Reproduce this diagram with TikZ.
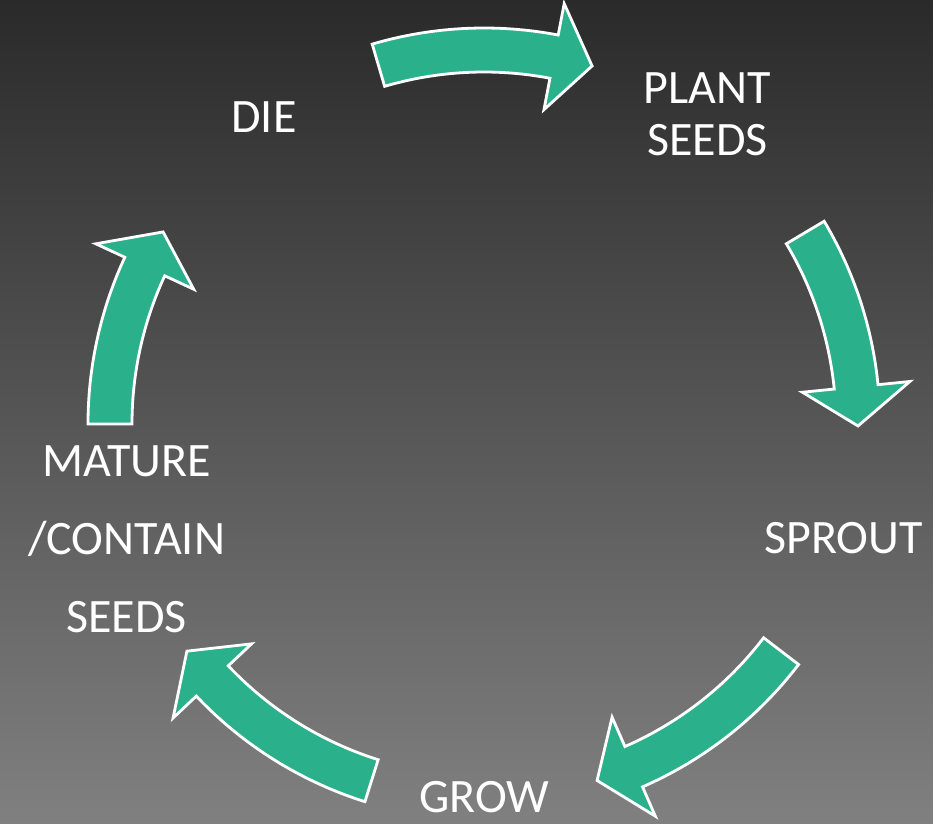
\documentclass[tikz,border=0pt]{standalone}
\usepackage{fontspec}
\setmainfont{Carlito}
\usetikzlibrary{positioning,calc}
\definecolor{BgTop}{HTML}{2A2A2A}
\definecolor{BgBottom}{HTML}{808080}
\definecolor{Leaf}{HTML}{2BB08C}
\newcommand{\cycleArrow}[2]{%
  \draw[cycleArrowStyle] (#1:396pt) arc[start angle=#1, end angle={#2+6}, radius=396pt]
    -- ({#2+6}:428pt) -- (#2:374pt) -- ({#2+6}:320pt) -- ({#2+6}:352pt)
    arc[start angle={#2+6}, end angle=#1, radius=352pt] -- cycle;}

\begin{document}
\begin{tikzpicture}[x=1pt,y=1pt,
  stageLabel/.style={text=white,inner sep=0pt,font=\fontsize{48}{52}\selectfont},
  cycleArrowStyle/.style={fill=Leaf,draw=white,line width=2.8pt,line join=miter}]
\useasboundingbox (0,0) rectangle (933,823);
\shade[top color=BgTop,bottom color=BgBottom] (0,0) rectangle (933,823);
\coordinate (hub) at (484,399);
\begin{scope}[shift={(hub)}]
\cycleArrow{106.4}{73.2}
\cycleArrow{30.8}{-0.3}
\cycleArrow{-37.4}{-72.4}
\cycleArrow{-107.5}{-142.6}
\cycleArrow{180}{149.1}
\end{scope}
\node[stageLabel,anchor=base] (die) at (264,690) {DIE};
\node[stageLabel,anchor=north,align=center] (plant) at (707.5,750) {PLANT\\SEEDS};
\node[stageLabel,anchor=base] (sprout) at (843.5,270) {SPROUT};
\node[stageLabel,anchor=base] (grow) at (484.5,11) {GROW};
\node[stageLabel,anchor=north,align=center,font=\fontsize{48}{78}\selectfont] (mature) at (126.5,378) {MATURE\\/CONTAIN\\SEEDS};
\end{tikzpicture}
\end{document}
